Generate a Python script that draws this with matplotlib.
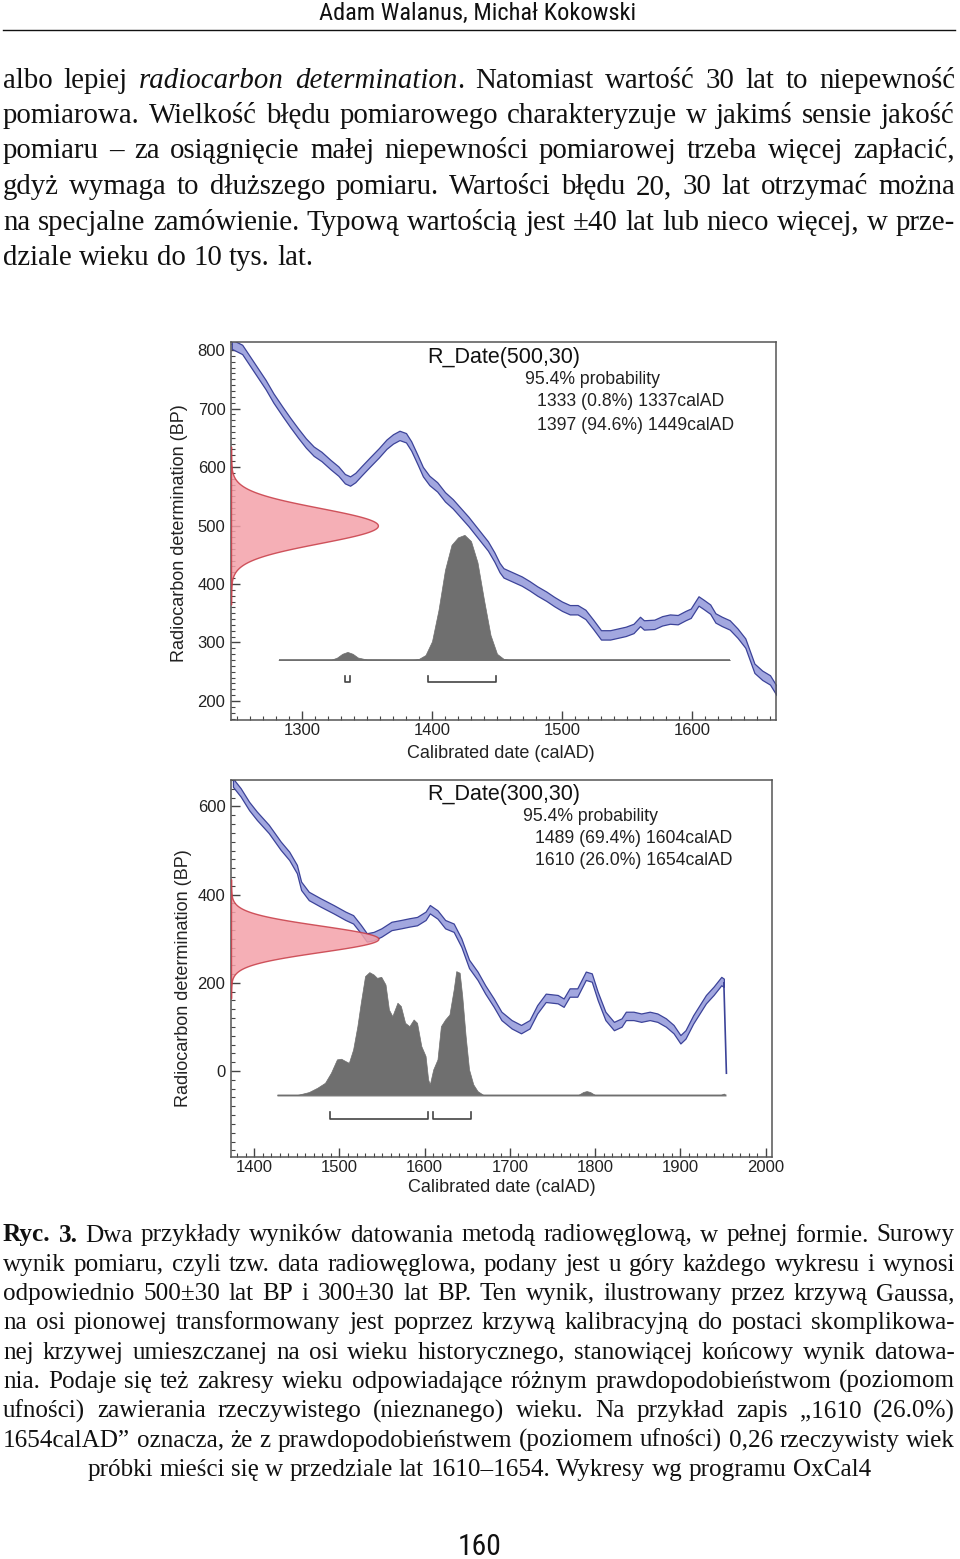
import numpy as np
import matplotlib
matplotlib.use('Agg')
import matplotlib.pyplot as plt
from matplotlib import font_manager
from matplotlib.ticker import MultipleLocator
from matplotlib.lines import Line2D

# ---------------- data ----------------
# plot 1: R_Date(500,30)
r1_mu, r1_sigma = 500, 30
cal1_year = [1246, 1254, 1260, 1266, 1272, 1278, 1285, 1291, 1297, 1303, 1309, 1315, 1322, 1328,
             1333, 1337, 1341, 1346, 1352, 1359, 1365, 1370, 1375, 1380, 1384, 1389, 1393, 1398,
             1404, 1410, 1416, 1422, 1428, 1433, 1438, 1443, 1448, 1452, 1455, 1463, 1469, 1475,
             1481, 1488, 1494, 1500, 1506, 1512, 1518, 1524, 1530, 1537, 1543, 1549, 1555, 1560,
             1563, 1571, 1577, 1583, 1589, 1595, 1599, 1605, 1609, 1614, 1618, 1623, 1629, 1635,
             1641, 1648, 1654, 1660, 1665]
cal1_bp = [810, 801, 781, 761, 741, 718, 695, 676, 658, 641, 627, 618, 604, 593,
           580, 576, 582, 594, 608, 624, 639, 648, 654, 650, 636, 612, 592, 577,
           566, 549, 537, 522, 507, 493, 479, 465, 446, 428, 419, 411, 405, 397,
           388, 379, 370, 362, 356, 356, 348, 331, 313, 313, 316, 319, 324, 336,
           330, 331, 337, 340, 339, 346, 350, 371, 365, 357, 342, 336, 330, 316,
           299, 256, 244, 236, 218]
cal1_err = 8
dist1_year = [1282, 1322, 1327, 1331, 1335, 1339, 1343, 1350, 1385, 1390, 1395, 1400, 1405, 1410,
              1415, 1420, 1425, 1430, 1435, 1440, 1445, 1450, 1455, 1460, 1629]
dist1_prob = [0, 0, 0.02, 0.05, 0.065, 0.05, 0.02, 0.004, 0, 0.01, 0.04, 0.15, 0.4, 0.72,
              0.92, 0.98, 1.0, 0.95, 0.78, 0.48, 0.2, 0.05, 0.01, 0, 0]
ranges1 = [(1333, 1337), (1397, 1449)]
title1 = "R_Date(500,30)"
text1 = ["95.4% probability", "1333 (0.8%) 1337calAD", "1397 (94.6%) 1449calAD"]

# plot 2: R_Date(300,30)
r2_mu, r2_sigma = 300, 30
cal2_year = [1375, 1384, 1394, 1403, 1417, 1431, 1441, 1450, 1455, 1464, 1478, 1493, 1507, 1516,
             1525, 1532, 1540, 1549, 1561, 1572, 1582, 1591, 1601, 1606, 1615, 1624, 1634, 1643,
             1652, 1662, 1671, 1681, 1690, 1702, 1713, 1723, 1732, 1742, 1756, 1763, 1770, 1779,
             1789, 1796, 1803, 1812, 1822, 1831, 1836, 1845, 1854, 1864, 1873, 1883, 1892, 1900,
             1906, 1915, 1930, 1939, 1948, 1951]
cal2_bp = [654, 632, 601, 579, 549, 511, 488, 458, 420, 397, 382, 367, 352, 344,
           322, 303, 306, 314, 329, 333, 337, 340, 352, 367, 355, 333, 325, 291,
           243, 216, 185, 155, 125, 106, 95, 106, 140, 166, 163, 155, 178, 178,
           216, 212, 170, 125, 102, 110, 125, 125, 121, 125, 121, 110, 95, 72,
           83, 117, 163, 182, 204, 200]
cal2_err = 9.5
cal2_tail_year = [1951, 1954]
cal2_tail_bp = [200, -5]
dist2_year = [1427, 1450, 1464, 1474, 1483, 1490, 1497, 1502, 1507, 1511, 1516, 1521, 1525, 1530,
              1535, 1540, 1544, 1549, 1554, 1558, 1562, 1568, 1572, 1577, 1582, 1587, 1591, 1596,
              1601, 1604, 1606, 1610, 1615, 1619, 1624, 1629, 1634, 1637, 1641, 1644, 1648, 1652,
              1657, 1662, 1669, 1780, 1786, 1790, 1794, 1800, 1947, 1951, 1953]
dist2_prob = [0, 0, 0.024, 0.059, 0.099, 0.18, 0.288, 0.293, 0.274, 0.26, 0.368, 0.556, 0.745, 0.96,
              0.992, 0.973, 0.946, 0.954, 0.892, 0.69, 0.637, 0.745, 0.718, 0.583, 0.556, 0.61, 0.583, 0.395,
              0.315, 0.126, 0.086, 0.207, 0.288, 0.556, 0.61, 0.65, 0.852, 1.0, 0.987, 0.8, 0.476, 0.207,
              0.086, 0.032, 0, 0, 0.025, 0.032, 0.025, 0, 0, 0.012, 0]
ranges2 = [(1489, 1604), (1610, 1654)]
title2 = "R_Date(300,30)"
text2 = ["95.4% probability", "1489 (69.4%) 1604calAD", "1610 (26.0%) 1654calAD"]

header = "Adam Walanus, Michał Kokowski"
page_no = "160"
body = [
    [("albo lepiej ", "r"), ("radiocarbon determination", "i"), (". Natomiast wartość 30 lat to niepewność", "r")],
    [("pomiarowa. Wielkość błędu pomiarowego charakteryzuje w jakimś sensie jakość", "r")],
    [("pomiaru – za osiągnięcie małej niepewności pomiarowej trzeba więcej zapłacić,", "r")],
    [("gdyż wymaga to dłuższego pomiaru. Wartości błędu 20, 30 lat otrzymać można", "r")],
    [("na specjalne zamówienie. Typową wartością jest ±40 lat lub nieco więcej, w prze-", "r")],
    [("dziale wieku do 10 tys. lat.", "r")],
]
caption = [
    [("Ryc. 3.", "b"), (" Dwa przykłady wyników datowania metodą radiowęglową, w pełnej formie. Surowy", "r")],
    [("wynik pomiaru, czyli tzw. data radiowęglowa, podany jest u góry każdego wykresu i wynosi", "r")],
    [("odpowiednio 500±30 lat BP i 300±30 lat BP. Ten wynik, ilustrowany przez krzywą Gaussa,", "r")],
    [("na osi pionowej transformowany jest poprzez krzywą kalibracyjną do postaci skomplikowa-", "r")],
    [("nej krzywej umieszczanej na osi wieku historycznego, stanowiącej końcowy wynik datowa-", "r")],
    [("nia. Podaje się też zakresy wieku odpowiadające różnym prawdopodobieństwom (poziomom", "r")],
    [("ufności) zawierania rzeczywistego (nieznanego) wieku. Na przykład zapis „1610 (26.0%)", "r")],
    [("1654calAD” oznacza, że z prawdopodobieństwem (poziomem ufności) 0,26 rzeczywisty wiek", "r")],
    [("próbki mieści się w przedziale lat 1610–1654. Wykresy wg programu OxCal4", "r")],
]

# ---------------- fonts ----------------
names = {f.name for f in font_manager.fontManager.ttflist}
def pick(cands):
    for c in cands:
        if c in names:
            return c
    return 'DejaVu Sans'
SANS = pick(['Liberation Sans', 'Arial', 'DejaVu Sans'])
SERIF = pick(['Liberation Serif', 'DejaVu Serif'])
NARROW = pick(['Liberation Sans Narrow', 'Roboto Condensed', 'Open Sans Condensed', 'Roboto', 'Noto Sans'])
plt.rcParams['font.family'] = [SANS, 'DejaVu Sans']

W, H = 960, 1559
fig = plt.figure(figsize=(W / 100, H / 100), dpi=100)
R = fig.canvas.get_renderer()

def fx(x):
    return x / W
def fy(y):
    return 1 - y / H

STY = {'r': dict(style='normal', weight='normal'),
       'i': dict(style='italic', weight='normal'),
       'b': dict(style='normal', weight='bold')}

def twidth(s, size, family, st='r'):
    t = fig.text(0, 0, s, fontsize=size, family=family, **STY[st])
    w = t.get_window_extent(renderer=R).width
    t.remove()
    return w

def words_of(chunks):
    words = [[]]
    for txt, st in chunks:
        parts = txt.split(' ')
        for i, p in enumerate(parts):
            if i > 0:
                words.append([])
            if p:
                words[-1].append((p, st))
    return [w for w in words if w]

def natural_width(chunks, size, family):
    ws = words_of(chunks)
    sp = twidth('x x', size, family) - twidth('xx', size, family)
    return sum(twidth(s, size, family, st) for w in ws for s, st in w) + sp * (len(ws) - 1)

def draw_line(chunks, ybase, size, family, mode, x0=3, x1=955, xc=479):
    ws = words_of(chunks)
    sp = twidth('x x', size, family) - twidth('xx', size, family)
    wl = [[twidth(s, size, family, st) for s, st in w] for w in ws]
    tot = [sum(a) for a in wl]
    total = sum(tot)
    if mode == 'justify' and len(ws) > 1:
        gap = (x1 - x0 - total) / (len(ws) - 1)
    else:
        gap = sp
    if mode == 'center':
        x = xc - (total + gap * (len(ws) - 1)) / 2
    else:
        x = x0
    for w, segw, t in zip(ws, wl, tot):
        xx = x
        for (s, st), sw in zip(w, segw):
            fig.text(fx(xx), fy(ybase), s, fontsize=size, family=family, ha='left',
                     va='baseline', color='#111', **STY[st])
            xx += sw
        x += t + gap

# ---------------- page text ----------------
hs = 14 * 319 / twidth(header, 14, NARROW)
fig.text(fx(478), fy(20), header, fontsize=hs, family=NARROW, ha='center', va='baseline', color='#111')
fig.add_artist(Line2D([fx(3), fx(955)], [fy(29.7), fy(29.7)], color='#111', lw=1.0))

ref = 20
mx = max(natural_width(l, ref, SERIF) for l in body[:-1])
bsize = ref * 948 / mx
ys = [87.5, 123, 158.5, 194, 229.5, 265]
for i, (line, yb) in enumerate(zip(body, ys)):
    draw_line(line, yb, bsize, SERIF, 'justify' if i < len(body) - 1 else 'left')

mx = max(natural_width(l, ref, SERIF) for l in caption[:-1])
csize = ref * 950 / mx
for i, line in enumerate(caption):
    yb = 1241.5 + 29.3 * i
    draw_line(line, yb, csize, SERIF, 'justify' if i < len(caption) - 1 else 'center')

ps = 18 * 44 / twidth(page_no, 18, NARROW)
fig.text(fx(480), fy(1555), page_no, fontsize=ps, family=NARROW, ha='center', va='baseline', color='#111')

# ---------------- plots ----------------
BAND_FC, BAND_EC = '#a2a7df', '#3c4399'
RED_FC, RED_EC = '#f4a1a9', '#c73b45'
GRAY = '#6f6f6f'

def make_axes(l, t, r, b):
    return fig.add_axes([fx(l), fy(b), (r - l) / W, (b - t) / H])

def style_axes(ax, xlim, ylim, xmaj, xmin, ymaj, ymin):
    ax.set_xlim(*xlim)
    ax.set_ylim(*ylim)
    ax.set_xticks(xmaj)
    ax.set_yticks(ymaj)
    ax.xaxis.set_minor_locator(MultipleLocator(xmin))
    ax.yaxis.set_minor_locator(MultipleLocator(ymin))
    ax.tick_params(which='both', direction='in', top=False, right=False, color='#444')
    ax.tick_params(which='major', length=6.5, width=1.0, labelsize=12, labelcolor='#222')
    ax.tick_params(which='minor', length=3.0, width=0.8)
    ax.tick_params(axis='x', which='major', pad=2.5)
    ax.tick_params(axis='y', which='major', pad=4)
    for s in ax.spines.values():
        s.set_color('#555')
        s.set_linewidth(1.1)

def draw_panel(ax, cy, cb, err, mu, sigma, gw, dy, dp, dscale, dbase, dextent, dline_c, dline_w,
               ranges, rby, rbh):
    x0 = ax.get_xlim()[0]
    cy = np.array(cy); cb = np.array(cb)
    ax.fill_between(cy, cb - err, cb + err, facecolor=BAND_FC, edgecolor=BAND_EC, lw=0.9,
                    zorder=2, joinstyle='round')
    yy = np.linspace(mu - 4.5 * sigma, mu + 4.5 * sigma, 400)
    dens = np.exp(-0.5 * ((yy - mu) / sigma) ** 2)
    ax.fill_betweenx(yy, x0, x0 + gw * dens, facecolor=RED_FC, edgecolor=RED_EC, lw=1.0,
                     alpha=0.85, zorder=3)
    ax.plot(dextent, [dbase, dbase], color=dline_c, lw=dline_w, zorder=3, solid_capstyle='butt')
    dy = np.array(dy); dp = np.array(dp)
    ax.fill_between(dy, dbase, dbase + dscale * dp, facecolor=GRAY, edgecolor=GRAY, lw=0.5, zorder=4)
    for a, b in ranges:
        ax.plot([a, a, b, b], [rby + rbh, rby, rby, rby + rbh], color='#444', lw=1.2, zorder=4)

# panel 1
ax1 = make_axes(231, 342, 776, 720)
style_axes(ax1, (1245.4, 1664.6), (167.5, 813.7), [1300, 1400, 1500, 1600], 10,
           list(range(200, 801, 100)), 10)
draw_panel(ax1, cal1_year, cal1_bp, cal1_err, r1_mu, r1_sigma, 113, dist1_year, dist1_prob, 214,
           270, [1282, 1629], '#6a6a6a', 1.2, ranges1, 232, 10)

# panel 2
ax2 = make_axes(231, 780, 772, 1157)
style_axes(ax2, (1372.7, 2007.5), (-195, 660), list(range(1400, 2001, 100)), 10,
           [0, 200, 400, 600], 20)
draw_panel(ax2, cal2_year, cal2_bp, cal2_err, r2_mu, r2_sigma, 173, dist2_year, dist2_prob, 281,
           -54.5, [1427, 1953], '#aaaaaa', 1.8, ranges2, -108, 14)
ax2.plot(cal2_tail_year, cal2_tail_bp, color=BAND_EC, lw=1.2, zorder=2)

# panel texts
def panel_text(title, lines, ty, tx, lx0, lx1, ly):
    fig.text(fx(tx), fy(ty), title, fontsize=15.5, ha='left', va='center', color='#111')
    fig.text(fx(lx0), fy(ly[0]), lines[0], fontsize=12.7, ha='left', va='center', color='#222')
    fig.text(fx(lx1), fy(ly[1]), lines[1], fontsize=12.7, ha='left', va='center', color='#222')
    fig.text(fx(lx1), fy(ly[2]), lines[2], fontsize=12.7, ha='left', va='center', color='#222')

panel_text(title1, text1, 357, 427, 525, 537, [380, 402, 425])
panel_text(title2, text2, 795, 427, 523, 535, [817, 839, 861])

for yl, xl, xlab_y, xlab_x in [(533, 180, 753, 501), (978, 184, 1187, 502)]:
    fig.text(fx(xl), fy(yl), "Radiocarbon determination (BP)", fontsize=13, rotation=90,
             ha='center', va='center', color='#222')
    fig.text(fx(xlab_x), fy(xlab_y), "Calibrated date (calAD)", fontsize=13,
             ha='center', va='center', color='#222')

fig.savefig('out.png', dpi=100)
